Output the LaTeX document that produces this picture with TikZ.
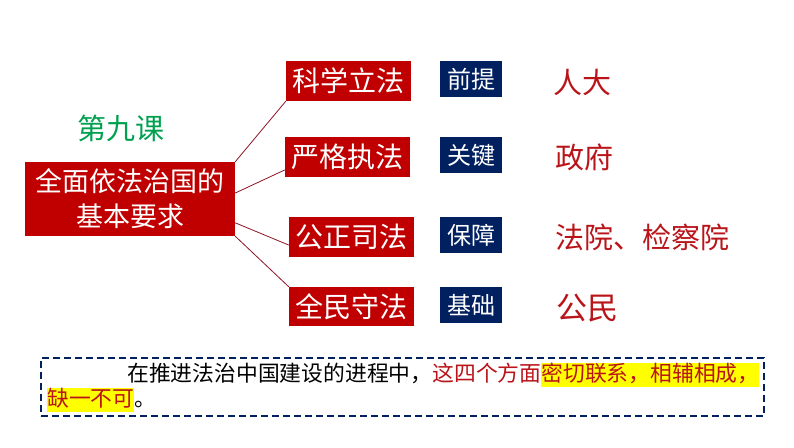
\documentclass[tikz,border=0pt]{standalone}
\usepackage{fontspec}
\setmainfont{Noto Sans CJK SC}
\usetikzlibrary{calc}
\tikzset{>=latex}
\definecolor{boxred}{RGB}{192, 0, 0}
\definecolor{boxnavy}{RGB}{0, 32, 96}
\definecolor{lessongreen}{RGB}{0, 160, 80}
\definecolor{textred}{RGB}{185, 20, 25}
\definecolor{linkred}{RGB}{140, 20, 35}
\definecolor{hilite}{RGB}{255, 255, 0}
\newcommand{\hlt}[1]{{\setlength{\fboxsep}{0pt}\colorbox{hilite}{\rule[-0.24em]{0pt}{1.1em}#1}}}

\begin{document}
\begin{tikzpicture}[x=1pt, y=-1pt,
  redbox/.style={fill=boxred, text=white, inner sep=0pt, minimum width=125pt, minimum height=40pt, font=\fontsize{28}{32}\selectfont},
  navybox/.style={fill=boxnavy, text=white, inner sep=0pt, minimum width=62pt, minimum height=36pt, font=\fontsize{24}{28}\selectfont},
  organ/.style={anchor=west, text=textred, inner sep=0pt, font=\fontsize{29}{32}\selectfont},
  link/.style={linkred, line width=0.8pt}]
\useasboundingbox (0,0) rectangle (794,447);
\node[text=lessongreen, font=\fontsize{29}{32}\selectfont] (lesson) at (121,128) {第九课};
\node[fill=boxred, text=white, inner sep=0pt, minimum width=210pt, minimum height=74pt, align=center, font=\fontsize{27}{35}\selectfont] (goal) at (130,199) {全面依法治国的\\基本要求};
\node[redbox] (law1) at (348.5,81) {科学立法};
\node[redbox] (law2) at (347.5,157) {严格执法};
\node[redbox] (law3) at (351.5,237) {公正司法};
\node[redbox, minimum height=39pt] (law4) at (351.5,306.5) {全民守法};
\node[navybox] (role1) at (471,79) {前提};
\node[navybox] (role2) at (471,155) {关键};
\node[navybox] (role3) at (471,235) {保障};
\node[navybox] (role4) at (471,305) {基础};
\node[organ] (organ1) at (553,82) {人大};
\node[organ] (organ2) at (555,157) {政府};
\node[organ] (organ3) at (555,237) {法院、检察院};
\node[organ, font=\fontsize{31}{34}\selectfont] (organ4) at (556,308) {公民};
\draw[link] (goal.north east) -- (law1.south west);
\draw[link] ($(goal.north east)!0.42!(goal.south east)$) -- ($(law2.south west)!0.18!(law2.north west)$);
\draw[link] ($(goal.north east)!0.82!(goal.south east)$) -- ($(law3.north west)!0.7!(law3.south west)$);
\draw[link] (goal.south east) -- (law4.north west);
\node[draw=boxnavy, line width=2pt, dash pattern=on 7pt off 4pt, minimum width=723pt, minimum height=58pt] (note) at (402.5,387) {};
\node[anchor=west, inner sep=0pt, font=\fontsize{21.8}{24}\selectfont] (line1) at (127,375) {在推进法治中国建设的进程中，\textcolor{textred}{这四个方面\hlt{密切联系，相辅相成，}}};
\node[anchor=west, inner sep=0pt, font=\fontsize{21.8}{24}\selectfont] (line2) at (47,400) {\textcolor{textred}{\hlt{缺一不可}}。};
\end{tikzpicture}
\end{document}
